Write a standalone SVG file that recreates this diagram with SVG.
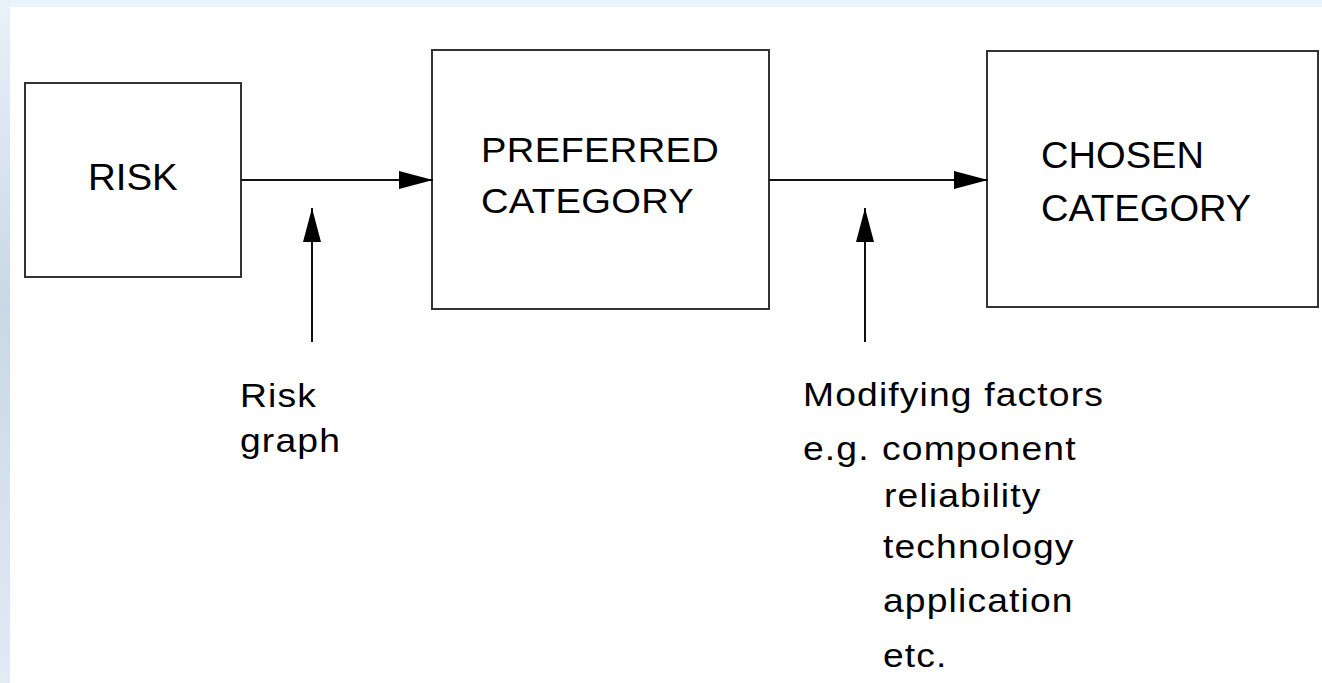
<svg xmlns="http://www.w3.org/2000/svg" width="1322" height="683" viewBox="0 0 1322 683">
  <defs>
    <linearGradient id="edgeGrad" x1="0" y1="0" x2="0" y2="1">
      <stop offset="0" stop-color="#e9f1f9"/>
      <stop offset="0.45" stop-color="#c9d8e5"/>
      <stop offset="1" stop-color="#e2eaf4"/>
    </linearGradient>
    <marker id="head" viewBox="0 0 34 18" refX="34" refY="9" markerWidth="34" markerHeight="18" markerUnits="userSpaceOnUse" orient="auto">
      <path d="M0,0 L34,9 L0,18 Z" fill="#000"/>
    </marker>
  </defs>
  <style>
    .box { fill: #fff; stroke: #333; stroke-width: 2; }
    .big { font-family: "Liberation Sans", Arial, sans-serif; fill: #000; }
    .small { font-family: "Liberation Sans", Arial, sans-serif; font-size: 33px; letter-spacing: 1px; fill: #000; }
    .wire { stroke: #111; stroke-width: 2; fill: none; marker-end: url(#head); }
  </style>

  <!-- page background with tinted frame -->
  <rect x="0" y="0" width="1322" height="683" fill="#ffffff"/>
  <rect x="0" y="0" width="1322" height="7" fill="#eaf2fa"/>
  <rect x="0" y="0" width="10" height="683" fill="url(#edgeGrad)"/>

  <g id="risk">
    <rect class="box" x="25" y="83" width="216" height="194"/>
    <text class="big" transform="translate(88,190) scale(1.04,1)" font-size="37">RISK</text>
  </g>

  <g id="preferred-category">
    <rect class="box" x="432" y="50" width="337" height="259"/>
    <text class="big" transform="translate(481,162) scale(1.09,1)" font-size="35" letter-spacing="0.3">PREFERRED</text>
    <text class="big" transform="translate(481,213) scale(1.09,1)" font-size="35" letter-spacing="0.3">CATEGORY</text>
  </g>

  <g id="chosen-category">
    <rect class="box" x="987" y="51" width="331" height="256"/>
    <text class="big" transform="translate(1041,168) scale(1.03,1)" font-size="37">CHOSEN</text>
    <text class="big" transform="translate(1041,221) scale(1.03,1)" font-size="37">CATEGORY</text>
  </g>

  <g id="risk-graph">
    <text class="small" transform="translate(240,407) scale(1.13,1)">Risk</text>
    <text class="small" transform="translate(240,452) scale(1.13,1)">graph</text>
  </g>

  <g id="modifying-factors">
    <text class="small" transform="translate(803,406) scale(1.13,1)">Modifying factors</text>
    <text class="small" transform="translate(803,460) scale(1.13,1)">e.g.</text>
    <text class="small" transform="translate(882,460) scale(1.13,1)">component</text>
    <text class="small" transform="translate(884,507) scale(1.13,1)">reliability</text>
    <text class="small" transform="translate(883,558) scale(1.13,1)">technology</text>
    <text class="small" transform="translate(883,612) scale(1.13,1)">application</text>
    <text class="small" transform="translate(883,667) scale(1.13,1)">etc.</text>
  </g>

  <g id="connectors">
    <line class="wire" x1="241" y1="180" x2="433" y2="180"/>
    <line class="wire" x1="769" y1="180" x2="988" y2="180"/>
    <line class="wire" x1="312" y1="342" x2="312" y2="208"/>
    <line class="wire" x1="865" y1="342" x2="865" y2="208"/>
  </g>
</svg>
